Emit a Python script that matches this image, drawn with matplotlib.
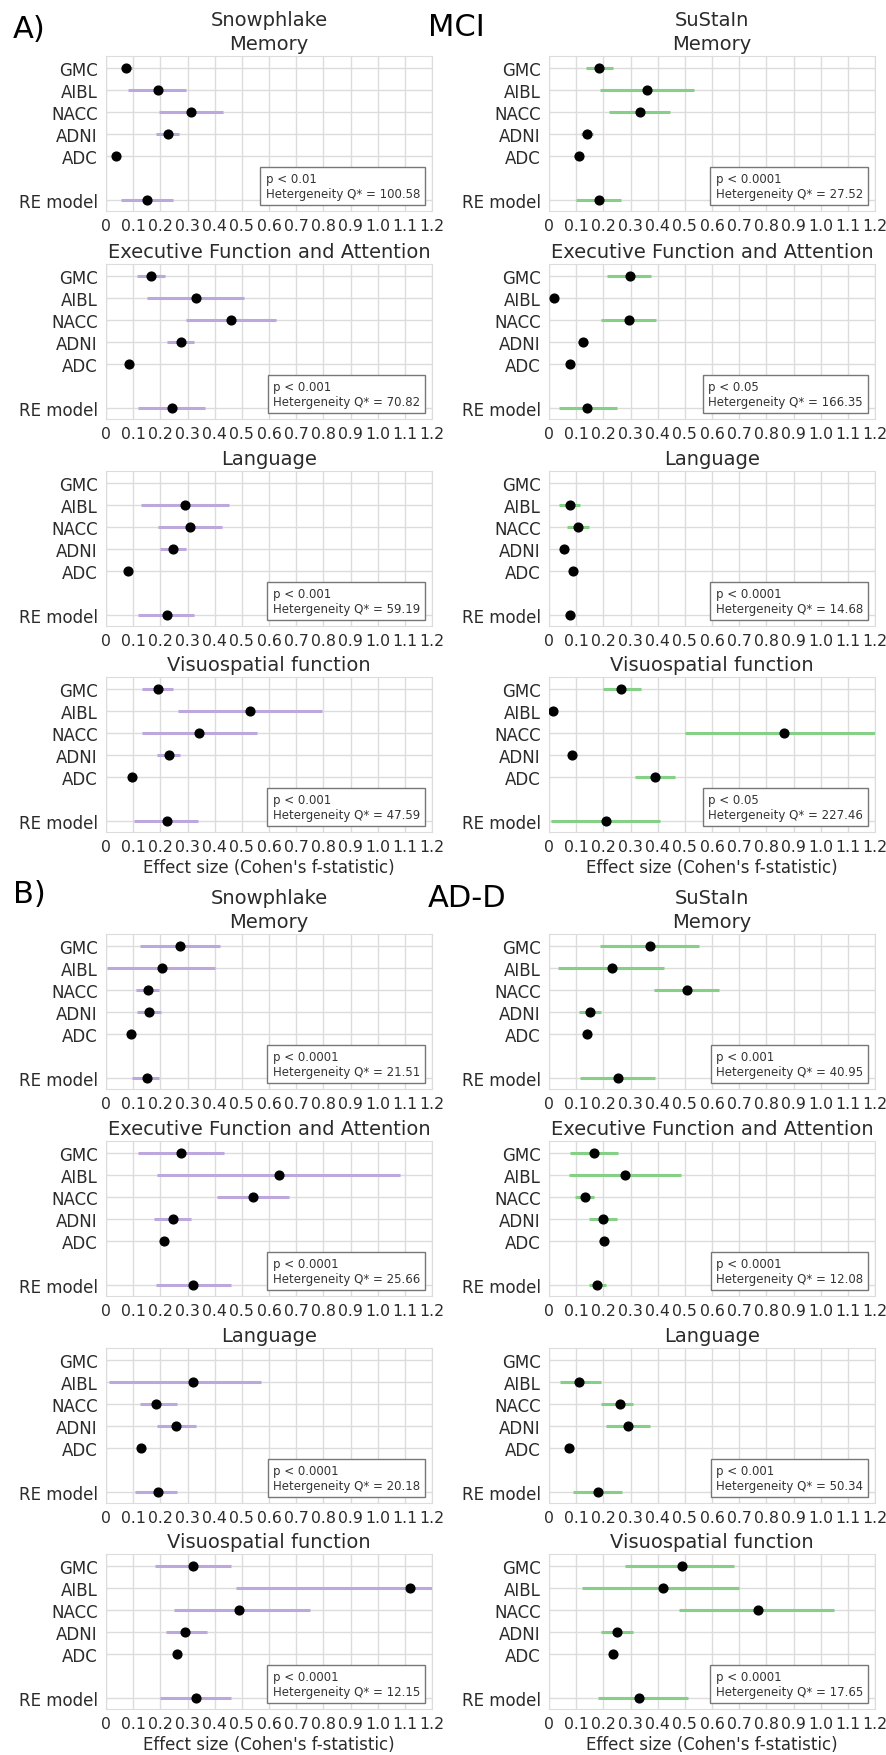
import numpy as np
import matplotlib
matplotlib.use("Agg")
import matplotlib.pyplot as plt

cohorts = ["GMC", "AIBL", "NACC", "ADNI", "ADC", "RE model"]
ypos = [0, 1, 2, 3, 4, 6]
domains = ["Memory", "Executive Function and Attention", "Language", "Visuospatial function"]
ticks = np.round(np.arange(0, 1.21, 0.1), 1)
tick_labels = ["0"] + [f"{t:.1f}" for t in ticks[1:]]

# rows: [estimate, lower, upper] for GMC, AIBL, NACC, ADNI, ADC, RE model
mci_snow_memory = [[0.072, 0.054, 0.094], [0.19, 0.082, 0.294], [0.312, 0.195, 0.43],
                   [0.227, 0.184, 0.27], [0.037, 0.03, 0.045], [0.15, 0.054, 0.245]]
mci_snow_exec = [[0.164, 0.113, 0.216], [0.331, 0.152, 0.509], [0.459, 0.293, 0.626],
                 [0.276, 0.223, 0.325], [0.086, 0.078, 0.094], [0.243, 0.119, 0.364]]
mci_snow_lang = [None, [0.291, 0.128, 0.453], [0.309, 0.193, 0.426],
                 [0.248, 0.199, 0.293], [0.08, 0.072, 0.088], [0.223, 0.119, 0.325]]
mci_snow_visuo = [[0.19, 0.134, 0.248], [0.53, 0.264, 0.794], [0.344, 0.131, 0.557],
                  [0.232, 0.187, 0.272], [0.096, 0.088, 0.104], [0.223, 0.104, 0.34]]

mci_sus_memory = [[0.184, 0.135, 0.236], [0.361, 0.189, 0.533], [0.334, 0.221, 0.447],
                  [0.14, 0.119, 0.162], [0.109, 0.091, 0.125], [0.183, 0.10, 0.264]]
mci_sus_exec = [[0.297, 0.215, 0.377], [0.017, 0.01, 0.024], [0.294, 0.193, 0.395],
                [0.125, 0.107, 0.144], [0.079, 0.071, 0.087], [0.141, 0.036, 0.25]]
mci_sus_lang = [None, [0.079, 0.037, 0.115], [0.107, 0.067, 0.146],
                [0.055, 0.048, 0.062], [0.088, 0.08, 0.096], [0.079, 0.06, 0.095]]
mci_sus_visuo = [[0.266, 0.199, 0.337], [0.015, 0.008, 0.022], [0.864, 0.502, 1.25],
                 [0.085, 0.077, 0.093], [0.391, 0.318, 0.465], [0.209, 0.009, 0.407]]

add_snow_memory = [[0.272, 0.125, 0.42], [0.205, 0.002, 0.401], [0.153, 0.11, 0.196],
                   [0.16, 0.113, 0.202], [0.092, 0.084, 0.1], [0.15, 0.097, 0.196]]
add_snow_exec = [[0.276, 0.119, 0.434], [0.637, 0.189, 1.082], [0.542, 0.407, 0.675],
                 [0.245, 0.177, 0.313], [0.215, 0.197, 0.23], [0.321, 0.184, 0.459]]
add_snow_lang = [None, [0.32, 0.01, 0.57], [0.183, 0.126, 0.26],
                 [0.258, 0.187, 0.33], [0.129, 0.12, 0.138], [0.19, 0.105, 0.26]]
add_snow_visuo = [[0.32, 0.18, 0.46], [1.12, 0.48, 1.25], [0.49, 0.25, 0.75],
                  [0.29, 0.22, 0.37], [0.26, 0.245, 0.275], [0.33, 0.2, 0.46]]

add_sus_memory = [[0.373, 0.189, 0.552], [0.232, 0.033, 0.423], [0.508, 0.385, 0.626],
                  [0.152, 0.11, 0.193], [0.14, 0.132, 0.148], [0.254, 0.113, 0.391]]
add_sus_exec = [[0.164, 0.076, 0.254], [0.279, 0.072, 0.485], [0.131, 0.097, 0.164],
                [0.199, 0.146, 0.25], [0.202, 0.185, 0.217], [0.178, 0.146, 0.211]]
add_sus_lang = [None, [0.11, 0.04, 0.19], [0.26, 0.19, 0.31],
                [0.29, 0.21, 0.37], [0.074, 0.066, 0.082], [0.18, 0.09, 0.27]]
add_sus_visuo = [[0.49, 0.28, 0.68], [0.42, 0.12, 0.70], [0.77, 0.48, 1.05],
                 [0.25, 0.19, 0.31], [0.235, 0.22, 0.25], [0.33, 0.18, 0.51]]

mci_snow_p = ["0.01", "0.001", "0.001", "0.001"]
mci_snow_q = ["100.58", "70.82", "59.19", "47.59"]
mci_sus_p = ["0.0001", "0.05", "0.0001", "0.05"]
mci_sus_q = ["27.52", "166.35", "14.68", "227.46"]
add_snow_p = ["0.0001", "0.0001", "0.0001", "0.0001"]
add_snow_q = ["21.51", "25.66", "20.18", "12.15"]
add_sus_p = ["0.001", "0.0001", "0.001", "0.0001"]
add_sus_q = ["40.95", "12.08", "50.34", "17.65"]

PURPLE = "#bca8dc"
GREEN = "#86cf86"
TXT = "#2b2b2b"

W, H = 886, 1756
fig = plt.figure(figsize=(W / 100, H / 100), dpi=100)

AX_W, AX_H = 326, 155
COL_X = [106, 549]
TOPS = {"A": [57, 265, 472, 678], "B": [935, 1142, 1349, 1555]}


def px_box(x, top, w, h):
    return [x / W, 1 - (top + h) / H, w / W, h / H]


def forest(ax, rows, color, p, q, title):
    for y, r in zip(ypos, rows):
        if r is None:
            continue
        est, lo, hi = r
        ax.hlines(y, lo, hi, color=color, lw=2.2, zorder=3)
        ax.plot(est, y, "o", color="black", ms=6.3, zorder=4)
    ax.set_xlim(0, 1.2)
    ax.set_ylim(6.5, -0.55)
    ax.set_yticks(ypos)
    ax.set_yticklabels(cohorts)
    ax.set_xticks(ticks)
    ax.set_xticklabels(tick_labels)
    ax.tick_params(length=0, labelsize=12, colors=TXT, pad=6)
    ax.tick_params(axis="x", labelsize=11.3, pad=5)
    ax.grid(True, color="#dcdcdc", lw=1)
    ax.set_axisbelow(True)
    for s in ax.spines.values():
        s.set_color("#dcdcdc")
    ax.set_title(title, fontsize=14, color=TXT, pad=5)
    ax.annotate(f"p < {p}\nHetergeneity Q* = {q}", xy=(1, 0), xycoords="axes fraction",
                xytext=(-12, 11), textcoords="offset pixels", ha="right", va="bottom",
                multialignment="left", fontsize=8.5, color="#333333", zorder=5,
                bbox=dict(boxstyle="square,pad=0.45", fc="white", ec="#777777", lw=1))


sections = [
    ("A", [mci_snow_memory, mci_snow_exec, mci_snow_lang, mci_snow_visuo],
     [mci_sus_memory, mci_sus_exec, mci_sus_lang, mci_sus_visuo],
     mci_snow_p, mci_snow_q, mci_sus_p, mci_sus_q),
    ("B", [add_snow_memory, add_snow_exec, add_snow_lang, add_snow_visuo],
     [add_sus_memory, add_sus_exec, add_sus_lang, add_sus_visuo],
     add_snow_p, add_snow_q, add_sus_p, add_sus_q),
]

for key, snow, sus, sp, sq, up, uq in sections:
    tops = TOPS[key]
    for col, (data, color, pvals, qvals) in enumerate([(snow, PURPLE, sp, sq), (sus, GREEN, up, uq)]):
        for i, top in enumerate(tops):
            ax = fig.add_axes(px_box(COL_X[col], top, AX_W, AX_H))
            forest(ax, data[i], color, pvals[i], qvals[i], domains[i])
        cx = (COL_X[col] + AX_W / 2) / W
        fig.text(cx, 1 - (tops[0] - 31) / H, ["Snowphlake", "SuStaIn"][col],
                 ha="center", va="baseline", fontsize=14, color=TXT)
        fig.text(cx, 1 - (tops[3] + AX_H + 40) / H, "Effect size (Cohen's f-statistic)",
                 ha="center", va="baseline", fontsize=12, color=TXT)

fig.text(13 / W, 1 - 38 / H, "A)", fontsize=22, va="baseline", ha="left", color="black")
fig.text(428 / W, 1 - 36 / H, "MCI", fontsize=22, va="baseline", ha="left", color="black")
fig.text(13 / W, 1 - 903 / H, "B)", fontsize=22, va="baseline", ha="left", color="black")
fig.text(428 / W, 1 - 907 / H, "AD-D", fontsize=22, va="baseline", ha="left", color="black")

fig.savefig("out.png", dpi=100, facecolor="white")
